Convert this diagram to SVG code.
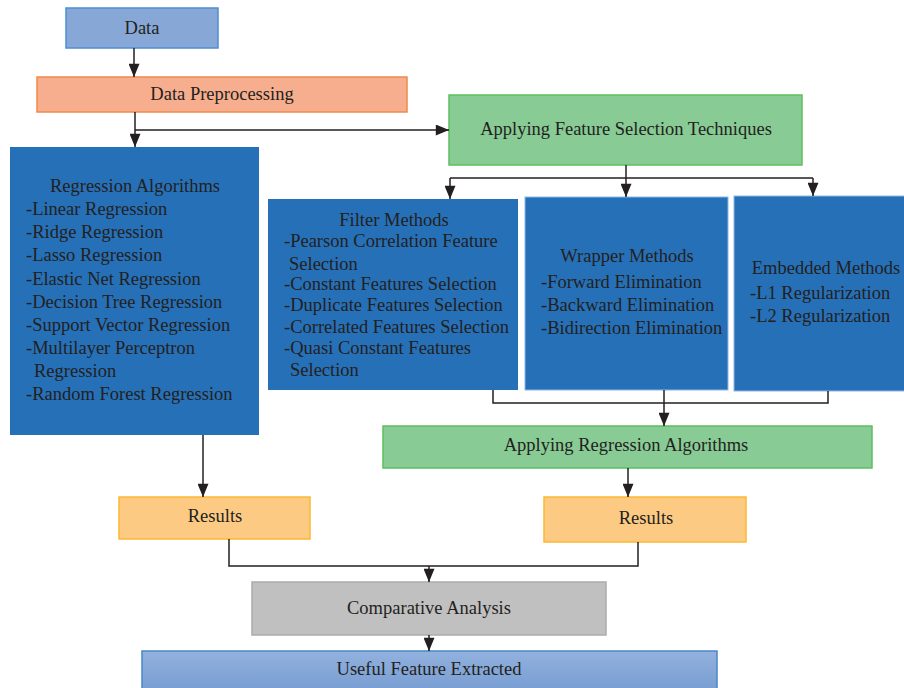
<svg xmlns="http://www.w3.org/2000/svg" width="904" height="688" viewBox="0 0 904 688">
<defs>
<marker id="ah" viewBox="0 0 12 10" refX="12" refY="5" markerWidth="14" markerHeight="11" markerUnits="userSpaceOnUse" orient="auto">
<path d="M0,0 L12,5 L0,10 z" fill="#231f20"/>
</marker>
<linearGradient id="ug" x1="0" y1="0" x2="0" y2="1">
<stop offset="0" stop-color="#92b1de"/>
<stop offset="1" stop-color="#789dd2"/>
</linearGradient>
<style>
text{font-family:"Liberation Serif","Times New Roman",serif;font-size:18.5px;fill:#231f20}
.c{text-anchor:middle}
.blue{fill:#2670b8}
.bl{fill:#2670b8;stroke:#8db8e4;stroke-width:1}
.green{fill:#88cb95;stroke:#5cbf60;stroke-width:1.5}
.res{fill:#fdca83;stroke:#fbb832;stroke-width:1.5}
.conn line,.conn polyline{stroke:#231f20;stroke-width:1.5;fill:none}
</style>
</defs>

<g id="data"><rect x="66" y="8" width="152" height="40" fill="#87a8d7" stroke="#4c8fd4" stroke-width="1.5"/><text class="c" x="142" y="34">Data</text></g>
<g id="preproc"><rect x="37" y="77" width="370" height="35" fill="#f7ae8e" stroke="#f08a4b" stroke-width="1.5"/><text class="c" x="222" y="100">Data Preprocessing</text></g>
<g id="afs"><rect x="449" y="95" width="353" height="70" class="green"/><text class="c" x="626" y="135">Applying Feature Selection Techniques</text></g>

<g id="regalg"><rect x="10" y="147" width="249" height="288" class="blue"/>
<text class="c" x="135" y="192">Regression Algorithms</text>
<text x="26" y="215">-Linear Regression</text>
<text x="26" y="238">-Ridge Regression</text>
<text x="26" y="261">-Lasso Regression</text>
<text x="26" y="285">-Elastic Net Regression</text>
<text x="26" y="308">-Decision Tree Regression</text>
<text x="26" y="331">-Support Vector Regression</text>
<text x="26" y="354">-Multilayer Perceptron</text>
<text x="34" y="377">Regression</text>
<text x="26" y="400">-Random Forest Regression</text>
</g>

<g id="filter"><rect x="268" y="199" width="250" height="191" class="blue"/>
<text class="c" x="394" y="226">Filter Methods</text>
<text x="284" y="247">-Pearson Correlation Feature</text>
<text x="289" y="270">Selection</text>
<text x="284" y="290">-Constant Features Selection</text>
<text x="284" y="311">-Duplicate Features Selection</text>
<text x="284" y="333">-Correlated Features Selection</text>
<text x="284" y="354">-Quasi Constant Features</text>
<text x="290" y="376">Selection</text>
</g>

<g id="wrapper"><rect x="525" y="197" width="203" height="193" class="bl"/>
<text class="c" x="627" y="262">Wrapper Methods</text>
<text x="541" y="288">-Forward Elimination</text>
<text x="541" y="311">-Backward Elimination</text>
<text x="541" y="334">-Bidirection Elimination</text>
</g>

<g id="embedded"><rect x="734" y="196" width="172" height="195" class="bl"/>
<text class="c" x="826" y="274">Embedded Methods</text>
<text x="750" y="299">-L1 Regularization</text>
<text x="750" y="322">-L2 Regularization</text>
</g>

<g id="ara"><rect x="383" y="426" width="489" height="42" class="green"/><text class="c" x="626" y="451">Applying Regression Algorithms</text></g>
<g id="res1"><rect x="119" y="497" width="191" height="42" class="res"/><text class="c" x="215" y="522">Results</text></g>
<g id="res2"><rect x="544" y="497" width="202" height="45" class="res"/><text class="c" x="646" y="524">Results</text></g>
<g id="comp"><rect x="252" y="582" width="354" height="53" fill="#c0c0c0" stroke="#acacac" stroke-width="1.5"/><text class="c" x="429" y="614">Comparative Analysis</text></g>
<g id="useful"><rect x="142" y="651" width="575" height="40" fill="url(#ug)" stroke="#4a86c8" stroke-width="1.5"/><text class="c" x="429" y="675">Useful Feature Extracted</text></g>

<g class="conn">
<line x1="134" y1="48" x2="134" y2="77" marker-end="url(#ah)"/>
<line x1="135" y1="112" x2="135" y2="147" marker-end="url(#ah)"/>
<line x1="135" y1="130" x2="449" y2="130" marker-end="url(#ah)"/>
<line x1="626" y1="165" x2="626" y2="197" marker-end="url(#ah)"/>
<line x1="450" y1="178" x2="813" y2="178"/>
<line x1="450" y1="178" x2="450" y2="199" marker-end="url(#ah)"/>
<line x1="813" y1="178" x2="813" y2="196" marker-end="url(#ah)"/>
<polyline points="493,390 493,403 828,403 828,391"/>
<line x1="664" y1="390" x2="664" y2="426" marker-end="url(#ah)"/>
<line x1="628" y1="468" x2="628" y2="497" marker-end="url(#ah)"/>
<line x1="203" y1="435" x2="203" y2="497" marker-end="url(#ah)"/>
<polyline points="229,539 229,566 638,566 638,542"/>
<line x1="429" y1="566" x2="429" y2="582" marker-end="url(#ah)"/>
<line x1="429" y1="635" x2="429" y2="651" marker-end="url(#ah)"/>
</g>
</svg>
